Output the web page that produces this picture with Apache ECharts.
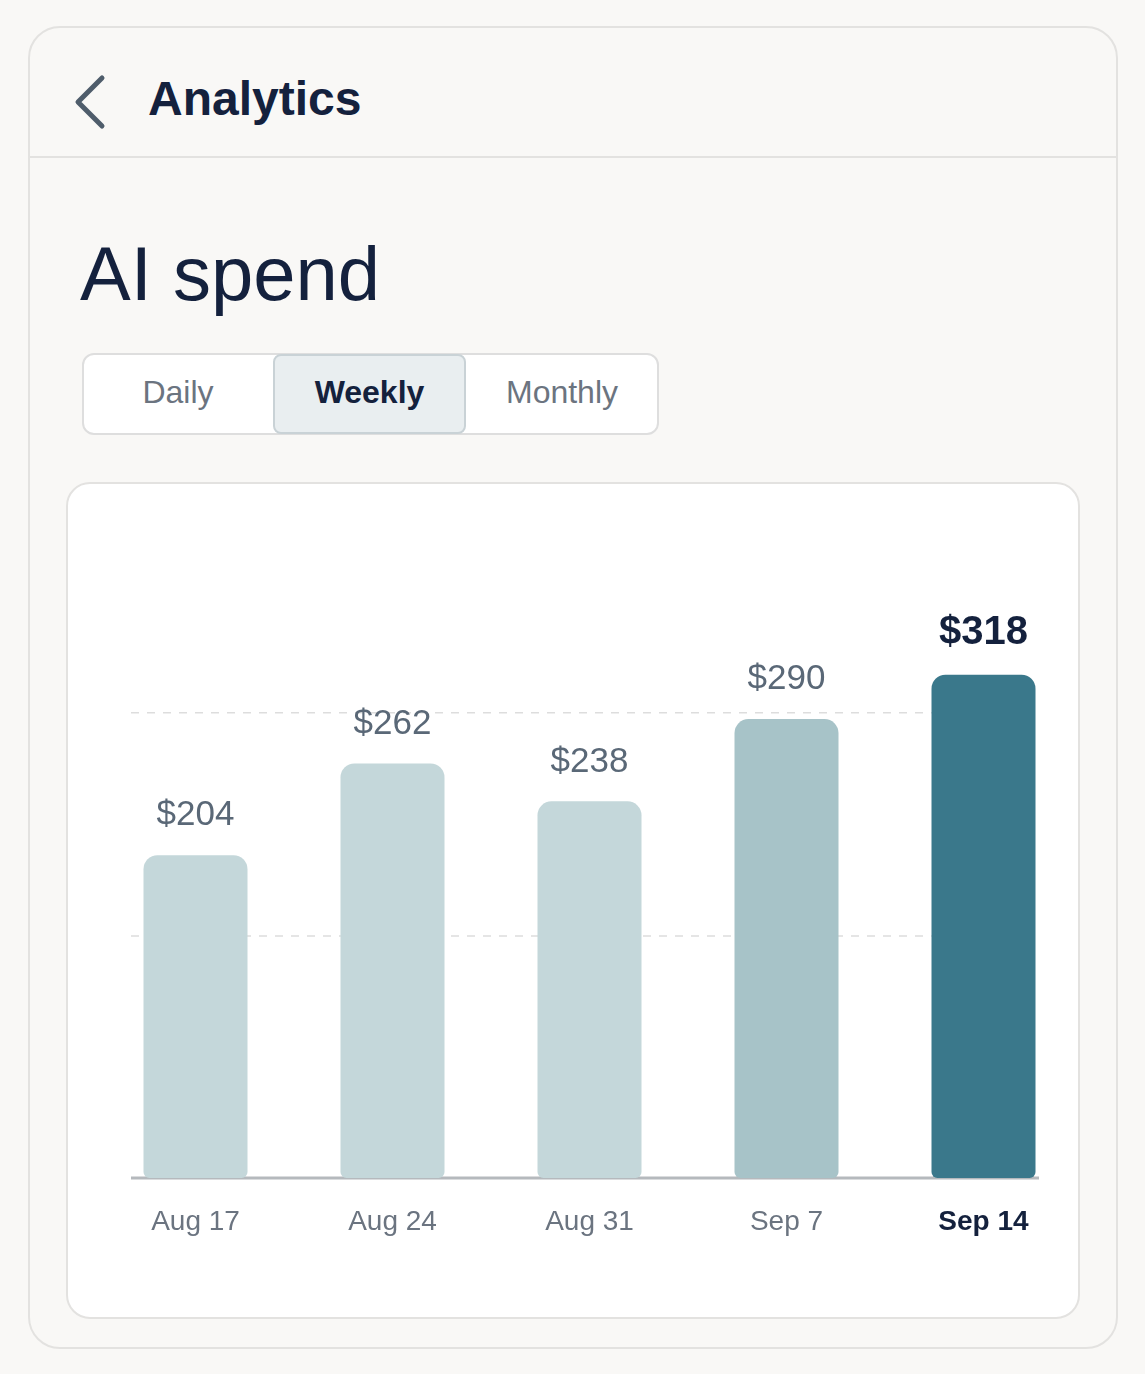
<!DOCTYPE html>
<html><head><meta charset="utf-8">
<script src="https://cdn.jsdelivr.net/npm/echarts@6/dist/echarts.min.js"></script>
<style>
body{margin:0;width:1145px;height:1374px;background:#f9f8f6;font-family:"Liberation Sans",Arial,sans-serif;position:relative;overflow:hidden}
.abs{position:absolute;box-sizing:border-box}
</style></head><body>
<div class="abs" style="left:28px;top:26px;width:1090px;height:1323px;border:2px solid #e3e2e0;border-radius:32px;background:#f9f8f6"></div>
<div class="abs" style="left:29px;top:156px;width:1088px;height:2px;background:#e3e2e0"></div>
<svg class="abs" style="left:70px;top:74px" width="40" height="56"><polyline points="32,4 8,28 32,52" fill="none" stroke="#4f5d6b" stroke-width="5" stroke-linecap="round" stroke-linejoin="round"/></svg>
<div class="abs" style="left:148px;top:71px;font-size:48px;font-weight:700;color:#14213d">Analytics</div>
<div class="abs" style="left:80px;top:230px;font-size:76px;color:#14213d">AI spend</div>
<div class="abs" style="left:82px;top:353px;width:577px;height:82px;border:2px solid #dedede;border-radius:12px;background:#fff"></div>
<div class="abs" style="left:273px;top:354px;width:193px;height:80px;border:2px solid #c9d2d6;border-radius:8px;background:#e9eef0"></div>
<div class="abs" style="left:82px;top:374px;width:192px;text-align:center;font-size:32px;color:#6b7480">Daily</div>
<div class="abs" style="left:273px;top:374px;width:193px;text-align:center;font-size:32px;font-weight:700;color:#14213d">Weekly</div>
<div class="abs" style="left:466px;top:374px;width:192px;text-align:center;font-size:32px;color:#6b7480">Monthly</div>
<div class="abs" style="left:66px;top:482px;width:1014px;height:837px;border:2px solid #e3e2e0;border-radius:24px;background:#fff"></div>
<div id="c" class="abs" style="left:0;top:0;width:1145px;height:1374px"></div>
<script>
const categories=["Aug 17","Aug 24","Aug 31","Sep 7","Sep 14"];
const values=[204,262,238,290,318];
const barColors=["#c4d7da","#c4d7da","#c4d7da","#a7c3c8","#3a788b"];
const gridValues=[153,294];
const F='"Liberation Sans", Arial, sans-serif';
const ch=echarts.init(document.getElementById('c'));
const last=values.length-1;
ch.setOption({
 animation:false,
 grid:{left:97,right:63,bottom:196,top:545},
 xAxis:{type:'category',data:categories,axisTick:{show:false},
  axisLine:{show:false},
  axisLabel:{margin:30,fontSize:28,color:'#6b7480',fontFamily:F,
   formatter:(v,i)=>i===last?'{b|'+v+'}':v,rich:{b:{fontSize:28,fontWeight:'bold',color:'#14213d',fontFamily:F}}}},
 yAxis:{type:'value',min:0,max:400,show:false,splitLine:{show:false}},
 series:[{type:'bar',barWidth:104,z:3,
  data:values.map((v,i)=>({value:v,itemStyle:{color:barColors[i],borderRadius:[14,14,6,6]},
   label:{show:true,position:'top',distance:22,formatter:'${c}',fontFamily:F,
    fontSize:i===last?40:35,fontWeight:i===last?'bold':'normal',color:i===last?'#14213d':'#5a6877'}}))
 }]
});
const y0=ch.convertToPixel({yAxisIndex:0},0);
const g=gridValues.map(v=>{const y=ch.convertToPixel({yAxisIndex:0},v);
 return {type:'line',z:0,shape:{x1:131,y1:y,x2:1039,y2:y},style:{stroke:'#dddddd',lineWidth:1.5,lineDash:[8,8]}};});
g.push({type:'line',z:1,shape:{x1:131,y1:y0,x2:1039,y2:y0},style:{stroke:'#b5b9bd',lineWidth:3}});
ch.setOption({graphic:g});
</script></body></html>
